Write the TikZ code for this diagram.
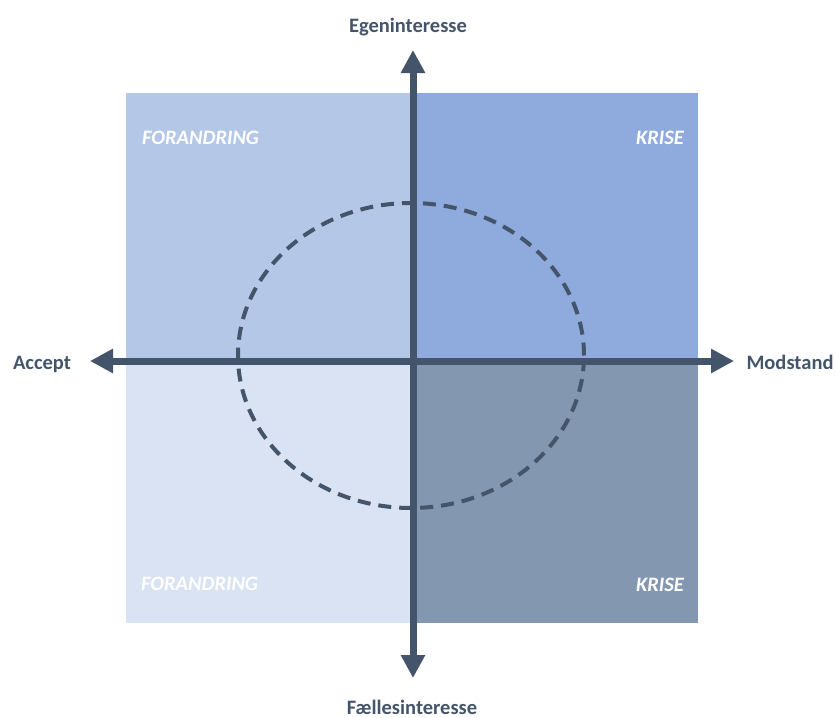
\documentclass[tikz,border=0pt]{standalone}
\usepackage{fontspec}
\setmainfont{Carlito}
\usetikzlibrary{arrows.meta}
\definecolor{slate}{HTML}{44546A}
\definecolor{qtl}{HTML}{B4C7E7}
\definecolor{qtr}{HTML}{8FAADC}
\definecolor{qbl}{HTML}{DAE3F3}
\definecolor{qbr}{HTML}{8497B0}
\begin{document}
\begin{tikzpicture}[x=1pt,y=-1pt,
  axis/.style={slate, line width=7pt, -{Triangle[length=23pt,width=23pt]}},
  axislabel/.style={text=slate, font=\bfseries\fontsize{20.5}{24}\selectfont, inner sep=0pt, anchor=base},
  quadlabel/.style={text=white, font=\bfseries\itshape\fontsize{20.5}{24}\selectfont, inner sep=0pt},
  ring/.style={slate, line width=4pt, dash pattern=on 13pt off 8pt}]
\useasboundingbox (0,0) rectangle (836,718);

% four quadrants
\fill[qtl] (126,93) rectangle (413,361);
\fill[qtr] (413,93) rectangle (698,361);
\fill[qbl] (126,361) rectangle (413,623);
\fill[qbr] (413,361) rectangle (698,623);

% quadrant titles
\node[quadlabel, anchor=base west] (ftop) at (142,144) {FORANDRING};
\node[quadlabel, anchor=base east] (ktop) at (684,144) {KRISE};
\node[quadlabel, anchor=base west] (fbot) at (141,590) {FORANDRING};
\node[quadlabel, anchor=base east] (kbot) at (684,591) {KRISE};

% dashed ring
\draw[ring] (411,355.5) ellipse [x radius=173pt, y radius=152.5pt];

% axes
\coordinate (c) at (413,361);
\coordinate (up) at (413,50);
\coordinate (down) at (413,678);
\coordinate (left) at (90,361);
\coordinate (right) at (734,361);
\draw[axis] (c) -- (up);
\draw[axis] (c) -- (down);
\draw[axis] (c) -- (left);
\draw[axis] (c) -- (right);

% axis titles
\node[axislabel] (ego) at (408,32) {Egeninteresse};
\node[axislabel] (acc) at (42,369) {Accept};
\node[axislabel] (mod) at (790,369) {Modstand};
\node[axislabel] (fal) at (412,714) {Fællesinteresse};
\end{tikzpicture}
\end{document}
